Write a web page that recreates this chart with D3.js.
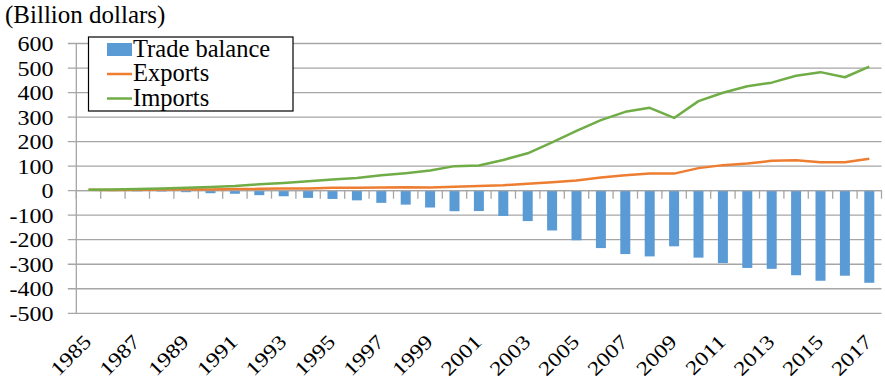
<!DOCTYPE html>
<html>
<head>
<meta charset="utf-8">
<script src="https://cdn.jsdelivr.net/npm/d3@7"></script>
</head>
<body style="margin:0">
<svg id="chart" width="885" height="382" style="display:block"></svg>
<script>
// US trade with China, billions of dollars
const years = d3.range(1985, 2018);
const exportsVals = [3.9, 3.1, 3.5, 5.0, 5.8, 4.8, 6.3, 7.4, 8.8, 9.3, 11.8, 12.0, 12.9, 14.2, 13.1,
  16.2, 19.2, 22.1, 28.4, 34.4, 41.2, 53.7, 62.9, 69.7, 69.5, 91.9, 104.1, 110.5, 121.7, 123.7,
  115.9, 115.6, 129.9];
const importsVals = [3.9, 4.8, 6.3, 8.5, 12.0, 15.2, 19.0, 25.7, 31.5, 38.8, 45.5, 51.5, 62.6, 71.2, 81.8,
  100.0, 102.3, 125.2, 152.4, 196.7, 243.5, 287.8, 321.4, 337.8, 296.4, 365.0, 399.4, 425.6, 440.4, 468.5,
  483.2, 462.4, 505.5];
const balanceVals = [-0.0, -1.7, -2.8, -3.5, -6.2, -10.4, -12.7, -18.3, -22.8, -29.5, -33.8, -39.5, -49.7, -56.9, -68.7,
  -83.8, -83.1, -103.1, -124.1, -162.3, -202.3, -234.1, -258.5, -268.0, -226.9, -273.0, -295.3, -315.1, -318.7, -344.8,
  -367.3, -346.8, -375.6];
const yTicks = d3.range(-500, 601, 100);
const xLabelYears = years.filter(v => (v - 1985) % 2 === 0);
const seriesNames = ["Trade balance", "Exports", "Imports"];
const unitLabel = "(Billion dollars)";

const colors = { balance: "#5b9bd5", exports: "#ed7d31", imports: "#70ad47", grid: "#a6a6a6" };
const FONT = "Liberation Serif";

const svg = d3.select("#chart").style("font-family", `"${FONT}"`);
const plot = { left: 76.3, right: 881.5, top: 43.5, bottom: 313.3 };

const x = d3.scaleBand().domain(years).range([plot.left, plot.right]).paddingInner(0).paddingOuter(0);
const y = d3.scaleLinear().domain([-500, 600]).range([plot.bottom, plot.top]);
const cx = yr => x(yr) + x.bandwidth() / 2;

// serif text helper
const serif = (sel, size) => sel
  .attr("font-family", FONT)
  .style("font-family", `"${FONT}"`)
  .style("font-size", size + "px");

// horizontal gridlines with short outward ticks
svg.append("g").selectAll("line").data(yTicks).join("line")
  .attr("x1", plot.left - 8.5).attr("x2", plot.right)
  .attr("y1", d => y(d)).attr("y2", d => y(d))
  .attr("stroke", colors.grid).attr("stroke-width", 1.3);

// value axis line
svg.append("line")
  .attr("x1", plot.left).attr("x2", plot.left)
  .attr("y1", y(600)).attr("y2", y(-500))
  .attr("stroke", colors.grid).attr("stroke-width", 1.3);

// y tick labels
svg.append("g").selectAll("text").data(yTicks).join("text")
  .attr("transform", d => `translate(53.5,${y(d) + 7.5}) scale(1.2,1)`)
  .attr("text-anchor", "end")
  .call(serif, 20)
  .text(d => d);

// trade balance bars
const barW = 10;
svg.append("g").selectAll("rect").data(years).join("rect")
  .attr("x", (d) => cx(d) - barW / 2)
  .attr("width", barW)
  .attr("y", (d, i) => y(Math.max(0, balanceVals[i])))
  .attr("height", (d, i) => Math.abs(y(balanceVals[i]) - y(0)))
  .attr("fill", colors.balance);

// category axis at zero with tick marks between categories
svg.append("line")
  .attr("x1", plot.left).attr("x2", plot.right)
  .attr("y1", y(0)).attr("y2", y(0))
  .attr("stroke", colors.grid).attr("stroke-width", 1.3);
const bounds = years.map(yr => x(yr)).concat([plot.right]);
svg.append("g").selectAll("line").data(bounds).join("line")
  .attr("x1", d => d).attr("x2", d => d)
  .attr("y1", y(0)).attr("y2", y(0) + 8)
  .attr("stroke", colors.grid).attr("stroke-width", 1.3);

// export and import lines
const pathOf = vals => d3.line().x((d, i) => cx(years[i])).y(d => y(d))(vals);
svg.append("path").attr("d", pathOf(exportsVals))
  .attr("fill", "none").attr("stroke", colors.exports).attr("stroke-width", 2.5)
  .attr("stroke-linejoin", "round");
svg.append("path").attr("d", pathOf(importsVals))
  .attr("fill", "none").attr("stroke", colors.imports).attr("stroke-width", 2.5)
  .attr("stroke-linejoin", "round");

// year labels, every other year, rotated
svg.append("g").selectAll("text").data(xLabelYears).join("text")
  .attr("transform", d => `translate(${cx(d) + 4},343) rotate(-45) scale(1.2,1)`)
  .attr("text-anchor", "end")
  .call(serif, 20)
  .text(d => d);

// unit label
svg.append("text").attr("x", 5).attr("y", 22.5)
  .call(serif, 25)
  .text(unitLabel);

// legend
const lg = svg.append("g");
lg.append("rect").attr("x", 88.5).attr("y", 37).attr("width", 204.5).attr("height", 74)
  .attr("fill", "#fff").attr("stroke", "#000").attr("stroke-width", 1.2);
lg.append("rect").attr("x", 107).attr("y", 43).attr("width", 25).attr("height", 13)
  .attr("fill", colors.balance);
lg.append("line").attr("x1", 107).attr("x2", 132).attr("y1", 74).attr("y2", 74)
  .attr("stroke", colors.exports).attr("stroke-width", 2.5);
lg.append("line").attr("x1", 107).attr("x2", 132).attr("y1", 98.5).attr("y2", 98.5)
  .attr("stroke", colors.imports).attr("stroke-width", 2.5);
lg.selectAll("text.leg").data(seriesNames).join("text")
  .attr("class", "leg")
  .attr("x", 133).attr("y", (d, i) => 56.5 + i * 24.5)
  .call(serif, 24.5)
  .text(d => d);
</script>
</body>
</html>
